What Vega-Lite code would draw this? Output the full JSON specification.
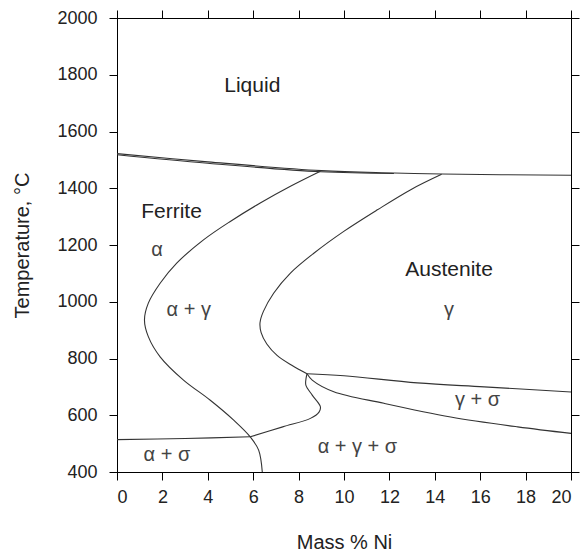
{
  "$schema": "https://vega.github.io/schema/vega-lite/v6.json",
  "width": 454,
  "height": 454,
  "autosize": {"type": "none"},
  "padding": {"left": 117, "top": 18, "right": 13, "bottom": 80},
  "background": "white",
  "config": {
    "view": {"stroke": "#000", "strokeWidth": 1},
    "font": "Liberation Sans",
    "axis": {
      "grid": false,
      "domainColor": "#000",
      "domainWidth": 1,
      "tickColor": "#000",
      "tickWidth": 1,
      "tickSize": 8,
      "labelFont": "Liberation Sans",
      "labelFontSize": 18,
      "labelColor": "#222",
      "titleFont": "Liberation Sans",
      "titleFontSize": 20,
      "titleFontWeight": "normal",
      "titleColor": "#222"
    }
  },
  "datasets": {
    "curves": [
      {"curve": "liquidus", "o": 1, "x": 0, "T": 1522},
      {"curve": "liquidus", "o": 2, "x": 4, "T": 1493},
      {"curve": "liquidus", "o": 3, "x": 9, "T": 1462},
      {"curve": "liquidus", "o": 4, "x": 12.2, "T": 1454},
      {"curve": "liquidus", "o": 5, "x": 14.3, "T": 1450},
      {"curve": "liquidus", "o": 6, "x": 20, "T": 1446},
      {"curve": "solidus", "o": 1, "x": 0, "T": 1518},
      {"curve": "solidus", "o": 2, "x": 4, "T": 1488},
      {"curve": "solidus", "o": 3, "x": 8.96, "T": 1458},
      {"curve": "solidus", "o": 4, "x": 12.2, "T": 1452},
      {"curve": "alpha", "o": 1, "x": 8.96, "T": 1460},
      {"curve": "alpha", "o": 2, "x": 7.64, "T": 1407},
      {"curve": "alpha", "o": 3, "x": 6.31, "T": 1348},
      {"curve": "alpha", "o": 4, "x": 4.99, "T": 1283},
      {"curve": "alpha", "o": 5, "x": 3.81, "T": 1218},
      {"curve": "alpha", "o": 6, "x": 2.63, "T": 1136},
      {"curve": "alpha", "o": 7, "x": 1.9, "T": 1065},
      {"curve": "alpha", "o": 8, "x": 1.38, "T": 995},
      {"curve": "alpha", "o": 9, "x": 1.21, "T": 936},
      {"curve": "alpha", "o": 10, "x": 1.38, "T": 877},
      {"curve": "alpha", "o": 11, "x": 1.9, "T": 806},
      {"curve": "alpha", "o": 12, "x": 2.93, "T": 724},
      {"curve": "alpha", "o": 13, "x": 4.11, "T": 653},
      {"curve": "alpha", "o": 14, "x": 5.14, "T": 583},
      {"curve": "alpha", "o": 15, "x": 5.87, "T": 524},
      {"curve": "alpha", "o": 16, "x": 6.24, "T": 477},
      {"curve": "alpha", "o": 17, "x": 6.4, "T": 400},
      {"curve": "gamma", "o": 1, "x": 14.3, "T": 1449},
      {"curve": "gamma", "o": 2, "x": 12.94, "T": 1395},
      {"curve": "gamma", "o": 3, "x": 11.47, "T": 1324},
      {"curve": "gamma", "o": 4, "x": 9.99, "T": 1248},
      {"curve": "gamma", "o": 5, "x": 8.67, "T": 1171},
      {"curve": "gamma", "o": 6, "x": 7.64, "T": 1101},
      {"curve": "gamma", "o": 7, "x": 6.9, "T": 1030},
      {"curve": "gamma", "o": 8, "x": 6.45, "T": 966},
      {"curve": "gamma", "o": 9, "x": 6.3, "T": 926},
      {"curve": "gamma", "o": 10, "x": 6.35, "T": 891},
      {"curve": "gamma", "o": 11, "x": 6.6, "T": 851},
      {"curve": "gamma", "o": 12, "x": 7.05, "T": 811},
      {"curve": "gamma", "o": 13, "x": 7.7, "T": 776},
      {"curve": "gamma", "o": 14, "x": 8.37, "T": 746},
      {"curve": "asig", "o": 1, "x": 0, "T": 514},
      {"curve": "asig", "o": 2, "x": 3, "T": 518},
      {"curve": "asig", "o": 3, "x": 5.87, "T": 524},
      {"curve": "agas", "o": 1, "x": 5.87, "T": 524},
      {"curve": "agas", "o": 2, "x": 7.3, "T": 559},
      {"curve": "agas", "o": 3, "x": 8.52, "T": 589},
      {"curve": "agas", "o": 4, "x": 8.9, "T": 611},
      {"curve": "agas", "o": 5, "x": 8.96, "T": 630},
      {"curve": "agas", "o": 6, "x": 8.6, "T": 671},
      {"curve": "agas", "o": 7, "x": 8.32, "T": 706},
      {"curve": "agas", "o": 8, "x": 8.33, "T": 731},
      {"curve": "agas", "o": 9, "x": 8.37, "T": 746},
      {"curve": "gsig_top", "o": 1, "x": 8.37, "T": 746},
      {"curve": "gsig_top", "o": 2, "x": 10, "T": 739},
      {"curve": "gsig_top", "o": 3, "x": 13.23, "T": 714},
      {"curve": "gsig_top", "o": 4, "x": 16.17, "T": 700},
      {"curve": "gsig_top", "o": 5, "x": 20, "T": 682},
      {"curve": "gsig_bot", "o": 1, "x": 8.37, "T": 746},
      {"curve": "gsig_bot", "o": 2, "x": 8.6, "T": 724},
      {"curve": "gsig_bot", "o": 3, "x": 9.55, "T": 683},
      {"curve": "gsig_bot", "o": 4, "x": 11.76, "T": 642},
      {"curve": "gsig_bot", "o": 5, "x": 14.7, "T": 594},
      {"curve": "gsig_bot", "o": 6, "x": 17.65, "T": 559},
      {"curve": "gsig_bot", "o": 7, "x": 20, "T": 536}
    ],
    "names": [
      {"label": "Liquid", "x": 5.96, "T": 1762},
      {"label": "Ferrite", "x": 2.4, "T": 1318},
      {"label": "Austenite", "x": 14.63, "T": 1111}
    ],
    "phases": [
      {"label": "α", "x": 1.76, "T": 1181},
      {"label": "α + γ", "x": 3.16, "T": 970},
      {"label": "γ", "x": 14.63, "T": 970},
      {"label": "α + σ", "x": 2.2, "T": 459},
      {"label": "α + γ + σ", "x": 10.59, "T": 488},
      {"label": "γ + σ", "x": 15.88, "T": 653}
    ]
  },
  "layer": [
    {
      "data": {"name": "curves"},
      "mark": {"type": "line", "color": "#333", "strokeWidth": 1.1, "interpolate": "catmull-rom"},
      "encoding": {
        "x": {
          "field": "x", "type": "quantitative",
          "scale": {"domain": [0, 20], "nice": false, "zero": false},
          "axis": {"orient": "bottom", "values": [0, 2, 4, 6, 8, 10, 12, 14, 16, 18, 20], "format": "d", "labelPadding": 8, "title": "Mass % Ni", "titleY": 60, "titleBaseline": "top"}
        },
        "y": {
          "field": "T", "type": "quantitative",
          "scale": {"domain": [400, 2000], "nice": false, "zero": false},
          "axis": {"orient": "left", "values": [400, 600, 800, 1000, 1200, 1400, 1600, 1800, 2000], "format": "d", "labelPadding": 12, "title": "Temperature, °C", "titleX": -85, "titleY": 227, "titleBaseline": "bottom", "titleAngle": -90}
        },
        "detail": {"field": "curve"},
        "order": {"field": "o", "type": "quantitative"}
      }
    },
    {
      "data": {"name": "names"},
      "mark": {"type": "text", "font": "Liberation Sans", "fontSize": 21, "color": "#222", "baseline": "middle", "align": "center"},
      "encoding": {
        "x": {"field": "x", "type": "quantitative", "axis": {"orient": "top", "labels": false, "title": null, "values": [0, 2, 4, 6, 8, 10, 12, 14, 16, 18, 20]}},
        "y": {"field": "T", "type": "quantitative", "axis": {"orient": "right", "labels": false, "title": null, "values": [400, 600, 800, 1000, 1200, 1400, 1600, 1800, 2000]}},
        "text": {"field": "label"}
      }
    },
    {
      "data": {"name": "phases"},
      "mark": {"type": "text", "font": "Liberation Sans", "fontSize": 20, "color": "#444", "baseline": "middle", "align": "center"},
      "encoding": {
        "x": {"field": "x", "type": "quantitative", "axis": null},
        "y": {"field": "T", "type": "quantitative", "axis": null},
        "text": {"field": "label"}
      }
    }
  ],
  "resolve": {"axis": {"x": "independent", "y": "independent"}}
}
